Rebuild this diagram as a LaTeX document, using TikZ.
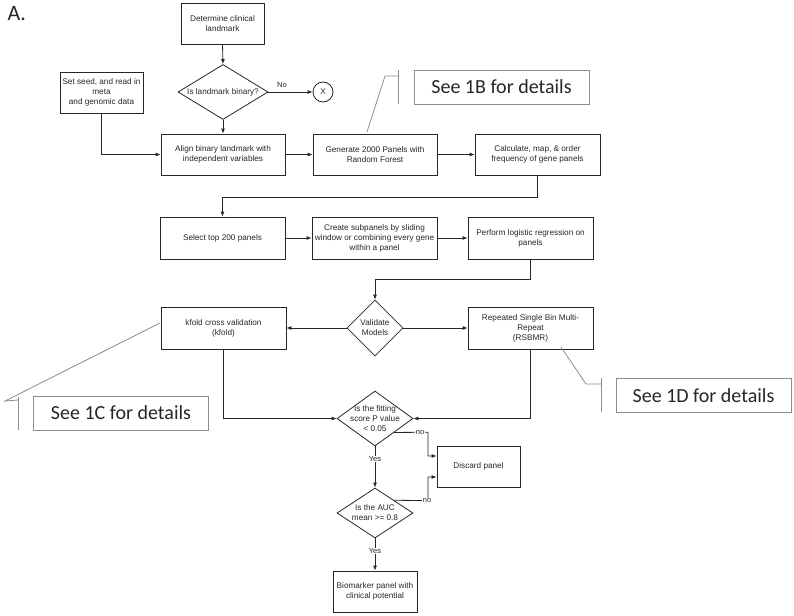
\documentclass[tikz,border=0pt]{standalone}
\usepackage{fontspec}
\setmainfont{Liberation Sans}
\newfontfamily\callfont{Carlito}
\usetikzlibrary{shapes.geometric,arrows.meta,calc}
\begin{document}
\begin{tikzpicture}[x=1pt,y=-1pt,
  every node/.style={font=\fontsize{8.2}{10}\selectfont, text=black!85},
  box/.style={draw=black!85, line width=0.8pt, align=center, inner sep=1pt},
  dia/.style={draw=black!85, line width=0.8pt, diamond, inner sep=0pt},
  dtext/.style={align=center, inner sep=0pt},
  arr/.style={draw=black!85, line width=0.8pt, -{Latex[length=5pt,width=4pt]}},
  plain/.style={draw=black!85, line width=0.8pt},
  call/.style={draw=black!45, line width=0.8pt},
  callbox/.style={draw=black!45, line width=0.8pt, font=\callfont\fontsize{20}{24}\selectfont, minimum width=175pt, minimum height=34pt, inner sep=0pt},
  lab/.style={font=\fontsize{7.5}{8}\selectfont, fill=white, inner sep=0.5pt}
]
\useasboundingbox (0,0) rectangle (794,615);

\node[anchor=west, font=\callfont\fontsize{22}{24}\selectfont] (A) at (4,14) {A.};

% boxes
\node[box, minimum width=83pt, minimum height=41pt] (det) at (222.5,23.5) {Determine clinical\\landmark};
\node[dia, minimum width=90pt, minimum height=55pt] (bin) at (223,92) {};
\node[dtext] (bint) at (bin.center) {Is landmark binary?};
\node[draw=black!85, line width=0.8pt, circle, minimum size=20pt, inner sep=0pt] (X) at (323,92) {X};
\node[box, minimum width=83pt, minimum height=41pt] (seed) at (101.5,92.5) {Set seed, and read in\\meta\\and genomic data};
\node[box, minimum width=124pt, minimum height=41pt] (align) at (223,154.5) {Align binary landmark with\\independent variables};
\node[box, minimum width=124pt, minimum height=41pt] (gen) at (375,154.5) {Generate 2000 Panels with\\Random Forest};
\node[box, minimum width=125pt, minimum height=41pt] (calc) at (537.5,154.5) {Calculate, map, \& order\\frequency of gene panels};
\node[box, minimum width=125pt, minimum height=42pt] (sel) at (222.5,238) {Select top 200 panels};
\node[box, minimum width=125pt, minimum height=42pt] (crt) at (374.5,238) {Create subpanels by sliding\\window or combining every gene\\within a panel};
\node[box, minimum width=125pt, minimum height=42pt] (perf) at (530.5,238) {Perform logistic regression on\\panels};
\node[dia, minimum width=56pt, minimum height=56pt] (val) at (375,328) {};
\node[dtext] (valt) at (val.center) {Validate\\Models};
\node[box, minimum width=125pt, minimum height=42pt] (kf) at (223.5,328) {kfold cross validation\\(kfold)};
\node[box, minimum width=125pt, minimum height=42pt] (rs) at (530.5,328) {Repeated Single Bin Multi-\\Repeat\\(RSBMR)};
\node[dia, minimum width=76pt, minimum height=55pt] (pv) at (375,418.5) {};
\node[dtext] (pvt) at (pv.center) {Is the fitting\\score P value\\< 0.05};
\node[box, minimum width=83pt, minimum height=41pt] (disc) at (478.5,466.5) {Discard panel};
\node[dia, minimum width=76pt, minimum height=50pt] (auc) at (375,513) {};
\node[dtext] (auct) at (auc.center) {Is the AUC\\mean >= 0.8};
\node[box, minimum width=84pt, minimum height=41pt] (bio) at (375,591.5) {Biomarker panel with\\clinical potential};

% callouts
\node[callbox] (c1b) at (501.5,87) {See 1B for details};
\node[callbox] (c1c) at (121,413) {See 1C for details};
\node[callbox] (c1d) at (703.5,395.5) {See 1D for details};
\coordinate (b1) at (367,132);
\coordinate (b2) at (385,76);
\coordinate (b3) at (398,76);
\coordinate (b4) at (398,70);
\coordinate (b5) at (398,104);
\draw[call] (b1) -- (b2) -- (b3);
\draw[call] (b4) -- (b5);
\coordinate (c1) at (160,323);
\coordinate (c2) at (5,401);
\coordinate (c3) at (18,400);
\coordinate (c4) at (18,397);
\coordinate (c5) at (18,430);
\draw[call] (c1) -- (c2) -- (c3);
\draw[call] (c4) -- (c5);
\coordinate (d1) at (561,347);
\coordinate (d2) at (586,384);
\coordinate (d3) at (601,384);
\coordinate (d4) at (601,378);
\coordinate (d5) at (601,412);
\draw[call] (d1) -- (d2) -- (d3);
\draw[call] (d4) -- (d5);

% connectors
\draw[arr] (det.south) -- (bin.north);
\draw[arr] (bin.east) -- (X.west);
\node[lab, fill=none] (nol) at (282,85) {No};
\draw[arr] (bin.south) -- (align.north);
\draw[arr] (seed.south) |- (align.west);
\draw[arr] (align.east) -- (gen.west);
\draw[arr] (gen.east) -- (calc.west);
\draw[arr] (calc.south) -- ++(0,22) -| (sel.north);
\draw[arr] (sel.east) -- (crt.west);
\draw[arr] (crt.east) -- (perf.west);
\draw[arr] (perf.south) -- ++(0,20) -| (val.north);
\draw[arr] (val.west) -- (kf.east);
\draw[arr] (val.east) -- (rs.west);
\draw[arr] (kf.south) |- (pv.west);
\draw[arr] (rs.south) |- (pv.east);
\coordinate (pvno) at ($(pv.east)!0.5!(pv.south)$);
\draw[arr] (pvno) -- (428,432.25) -- (428,456) -- (disc.west |- 0,456);
\node[lab] (pvnol) at (420,432.25) {no};
\draw[arr] (pv.south) -- (auc.north);
\node[lab] (pvyes) at (375,459) {Yes};
\coordinate (aucno) at ($(auc.east)!0.5!(auc.north)$);
\draw[arr] (aucno) -- (428,500.5) -- (428,477) -- (disc.west |- 0,477);
\node[lab] (aucnol) at (427,500.5) {no};
\draw[arr] (auc.south) -- (bio.north);
\node[lab] (aucyes) at (375,551) {Yes};
\end{tikzpicture}
\end{document}
